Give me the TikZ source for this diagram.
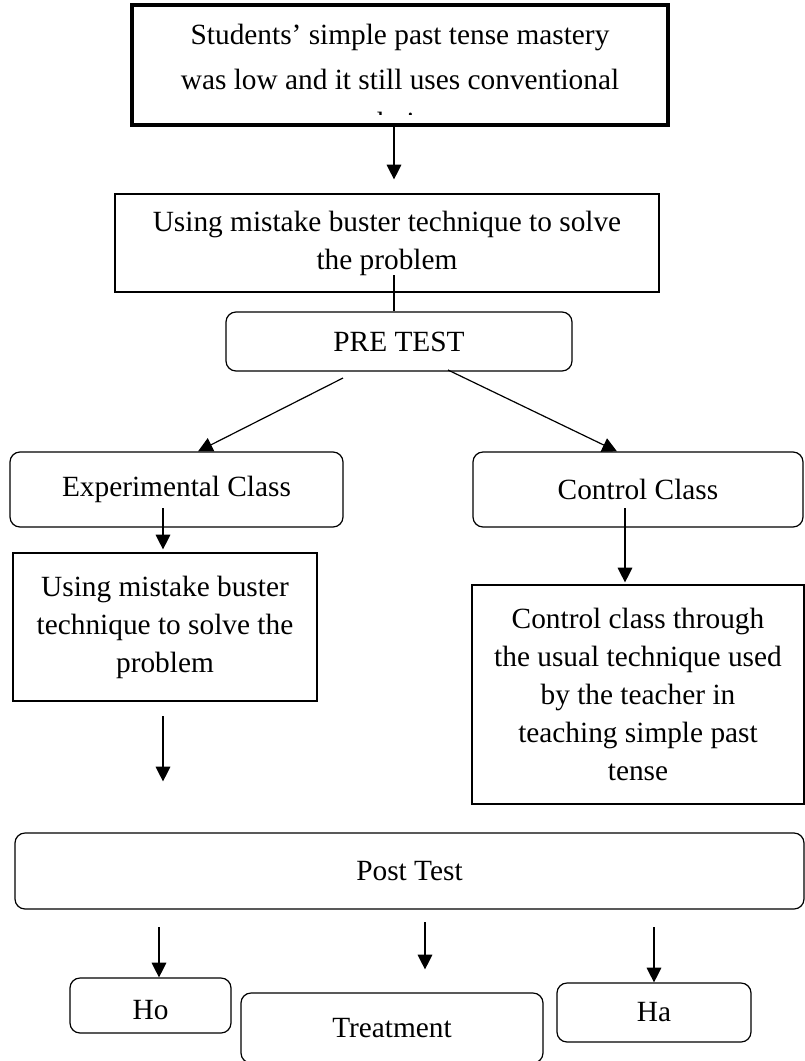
\documentclass[tikz,border=0pt]{standalone}
\usepackage{fontspec}
\setmainfont{Liberation Serif}
\usetikzlibrary{arrows.meta,calc}
\begin{document}
\begin{tikzpicture}[x=0.75pt,y=-0.75pt,
  box/.style={draw, line width=0.9pt, align=center, inner sep=0pt, font=\fontsize{22}{28.5}\selectfont},
  rbox/.style={box, rounded corners=7.5pt},
  arr/.style={line width=0.9pt, -{Triangle[width=11pt,length=11pt]}},
  plain/.style={line width=0.9pt},
]
\useasboundingbox (0,0) rectangle (805,1061);
\node[box, line width=3.5pt, minimum width=402pt, minimum height=90pt,
  font=\fontsize{22}{34}\selectfont,
  path picture={
    \clip ($(path picture bounding box.south west)+(0,-11)$) rectangle (path picture bounding box.north east);
    \node[anchor=base, font=\fontsize{22}{34}\selectfont]
    at ($(path picture bounding box.north)+(0,127)$) {technique};}]
  (top) at (400,65) {Students’ simple past tense mastery\\was low and it still uses conventional\rule[-12pt]{0pt}{1pt}};
\node[box, minimum width=408pt, minimum height=73.5pt] (box2) at (387,243)
  {Using mistake buster technique to solve\\the problem};
\node[rbox, minimum width=259.5pt, minimum height=44.25pt] (pre) at (399,341.5) {PRE TEST};
\node[rbox, minimum width=249.75pt, minimum height=56.25pt] (exp) at (176.5,489.5) {Experimental Class};
\node[rbox, minimum width=247.5pt, minimum height=56.25pt] (ctl) at (638,489.5) {Control Class};
\node[box, minimum width=228pt, minimum height=111pt] (lus) at (165,627)
  {Using mistake buster\\technique to solve the\\problem};
\node[box, minimum width=249pt, minimum height=164.25pt] (ctxt) at (638,694.5)
  {Control class through\\the usual technique used\\by the teacher in\\teaching simple past\\tense};
\node[rbox, minimum width=591.75pt, minimum height=57pt] (post) at (409.5,871) {Post Test};
\node[rbox, minimum width=120.75pt, minimum height=41.25pt] (ho) at (150.5,1005.5) {\rule{0pt}{21.4pt}Ho};
\node[rbox, minimum width=226.5pt, minimum height=52.5pt] (treat) at (392,1028) {Treatment};
\node[rbox, minimum width=145.5pt, minimum height=44.25pt] (ha) at (654,1012.5) {Ha};

\coordinate (a1) at (394,125);
\draw[arr, shorten >=10.5pt] (a1) -- (a1 |- box2.north);
\coordinate (b1) at (394,275);
\draw[plain] (b1) -- (b1 |- pre.north);
\coordinate (c1) at (343,378);
\draw[arr] (c1) -- ($(exp.north)+(21.5,0)$);
\coordinate (d1) at (448,370);
\draw[arr] (d1) -- ($(ctl.north)+(-21,0)$);
\coordinate (e1) at (163,508);
\draw[arr, shorten >=2.25pt] (e1) -- (e1 |- lus.north);
\coordinate (f1) at (625,508);
\draw[arr, shorten >=1.5pt] (f1) -- (f1 |- ctxt.north);
\coordinate (g1) at (163,716);
\draw[arr, shorten >=38.25pt] (g1) -- (g1 |- post.north);
\coordinate (h1) at (159,927);
\draw[arr] (h1) -- (h1 |- ho.north);
\coordinate (i1) at (425,922);
\draw[arr, shorten >=17.25pt] (i1) -- (i1 |- treat.north);
\coordinate (j1) at (654,927);
\draw[arr] (j1) -- (j1 |- ha.north);
\end{tikzpicture}
\end{document}
